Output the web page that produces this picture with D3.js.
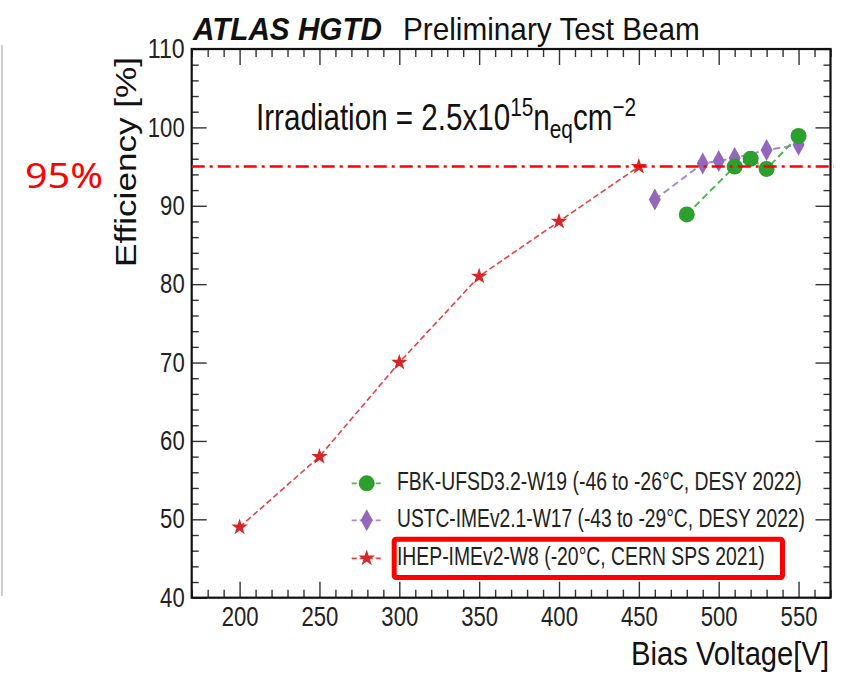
<!DOCTYPE html>
<html><head><meta charset="utf-8">
<script src="https://cdn.jsdelivr.net/npm/d3@7/dist/d3.min.js"></script>
<style>
body{margin:0;background:#fff;}
svg{display:block;font-family:"Liberation Sans",Arial,Helvetica,sans-serif;}
</style>
</head><body>
<svg id="c" width="841" height="674"></svg>
<script>
// ---------- data ----------
const xTicks = [200, 250, 300, 350, 400, 450, 500, 550];
const yTicks = [40, 50, 60, 70, 80, 90, 100, 110];
const fbkV   = [480, 510, 520, 530, 550];
const fbkEff = [88.9, 95.0, 96.0, 94.7, 98.9];
const ustcV   = [460, 490, 500, 510, 530, 550];
const ustcEff = [90.8, 95.4, 95.7, 96.1, 97.1, 97.8];
const ihepV   = [200, 250, 300, 350, 400, 450];
const ihepEff = [49, 58, 70, 81, 88, 95];
const seriesNames = [
  "FBK-UFSD3.2-W19 (-46 to -26°C, DESY 2022)",
  "USTC-IMEv2.1-W17 (-43 to -29°C, DESY 2022)",
  "IHEP-IMEv2-W8 (-20°C, CERN SPS 2021)"
];
const threshold = 95;

// ---------- layout ----------
const L = 191.7, R = 830.5, T = 49, B = 597.7;
const x = d3.scaleLinear().domain([170, 570]).range([L, R]);
const y = d3.scaleLinear().domain([40, 110]).range([B, T]);
const svg = d3.select("#c");

const green = "#2ca02c", greenL = "#4cb84c";
const purple = "#9467bd", purpleL = "#a68bd2";
const red = "#d62728", redL = "#e24545";

// scale a text horizontally so that it spans `width` px
function fit(t, tx, ty, width, anchor, pre) {
  t.attr("x", 0).attr("y", 0).attr("text-anchor", anchor || "start");
  const w = t.node().getComputedTextLength();
  t.attr("transform", `translate(${tx},${ty}) ${pre || ""} scale(${width / w},1)`);
  return t;
}

// faint vertical line at left edge
svg.append("line").attr("x1", 2).attr("x2", 2).attr("y1", 45).attr("y2", 596)
  .attr("stroke", "#bbb").attr("stroke-width", 1.5);

// ---------- axes ----------
const minorX = d3.range(170, 571, 10).filter(v => v % 50 !== 0);
const minorY = d3.range(40, 111, 2).filter(v => v % 10 !== 0);
function addAxis(axis, tx, ty) {
  const g = svg.append("g").attr("transform", `translate(${tx},${ty})`).call(axis);
  g.select(".domain").remove();
  g.selectAll(".tick line").attr("stroke", "#333").attr("stroke-width", 1.4);
  return g;
}
const gxb = addAxis(d3.axisBottom(x).tickValues(xTicks).tickSize(-16).tickPadding(9.5), 0, B);
addAxis(d3.axisBottom(x).tickValues(minorX).tickSize(-8).tickFormat(""), 0, B);
addAxis(d3.axisTop(x).tickValues(xTicks).tickSize(-16).tickFormat(""), 0, T);
addAxis(d3.axisTop(x).tickValues(minorX).tickSize(-8).tickFormat(""), 0, T);
const gyl = addAxis(d3.axisLeft(y).tickValues(yTicks).tickSize(-15).tickPadding(7), L, 0);
addAxis(d3.axisLeft(y).tickValues(minorY).tickSize(-7).tickFormat(""), L, 0);
addAxis(d3.axisRight(y).tickValues(yTicks).tickSize(-15).tickFormat(""), R, 0);
addAxis(d3.axisRight(y).tickValues(minorY).tickSize(-7).tickFormat(""), R, 0);

[gxb, gyl].forEach(g => g.selectAll(".tick text")
  .attr("font-size", 27).attr("fill", "#222")
  .attr("font-family", '"Liberation Sans",Arial,sans-serif')
  .attr("textLength", d => String(d).length * 12.3)
  .attr("lengthAdjust", "spacingAndGlyphs"));

// frame
svg.append("rect").attr("x", L).attr("y", T).attr("width", R - L).attr("height", B - T)
  .attr("fill", "none").attr("stroke", "#111").attr("stroke-width", 2.2);

// ---------- series ----------
const line = d3.line().x(d => x(d[0])).y(d => y(d[1]));
const ihep = d3.zip(ihepV, ihepEff);
const ustc = d3.zip(ustcV, ustcEff);
const fbk  = d3.zip(fbkV, fbkEff);

svg.append("path").datum(ihep).attr("d", line).attr("fill", "none")
  .attr("stroke", redL).attr("stroke-width", 1.6).attr("stroke-dasharray", "6,3");
svg.append("path").datum(ustc).attr("d", line).attr("fill", "none")
  .attr("stroke", purpleL).attr("stroke-width", 2).attr("stroke-dasharray", "7,4");
svg.append("path").datum(fbk).attr("d", line).attr("fill", "none")
  .attr("stroke", greenL).attr("stroke-width", 2).attr("stroke-dasharray", "7,4");

const diamond = "M0,-11L6,0L0,11L-6,0Z";
const star = d3.symbol(d3.symbolStar, 85)();

svg.append("g").selectAll("path").data(ihep).join("path")
  .attr("transform", d => `translate(${x(d[0])},${y(d[1])})`)
  .attr("d", star).attr("fill", red);
svg.append("g").selectAll("path").data(ustc).join("path")
  .attr("transform", d => `translate(${x(d[0])},${y(d[1])})`)
  .attr("d", diamond).attr("fill", purple);
svg.append("g").selectAll("circle").data(fbk).join("circle")
  .attr("cx", d => x(d[0])).attr("cy", d => y(d[1])).attr("r", 8).attr("fill", green);

// ---------- legend ----------
const legY = [483.3, 520.3, 558.3];
const legStyle = [
  {c: green, cl: greenL, m: "circle", len: 405},
  {c: purple, cl: purpleL, m: "diamond", len: 408},
  {c: red, cl: redL, m: "star", len: 368}
];
const leg = svg.append("g").selectAll("g").data(seriesNames).join("g")
  .attr("transform", (d, i) => `translate(0,${legY[i]})`);
leg.append("line").attr("x1", 351.7).attr("x2", 381).attr("y1", 0).attr("y2", 0)
  .attr("stroke", (d, i) => legStyle[i].cl).attr("stroke-width", 1.8).attr("stroke-dasharray", "5,3");
leg.each(function(d, i) {
  const g = d3.select(this);
  const s = legStyle[i];
  if (s.m === "circle") g.append("circle").attr("cx", 366.7).attr("r", 8).attr("fill", s.c);
  else if (s.m === "diamond") g.append("path").attr("transform", "translate(366.7,0)").attr("d", diamond).attr("fill", s.c);
  else g.append("path").attr("transform", "translate(366.7,0)").attr("d", star).attr("fill", s.c);
  const t = g.append("text").attr("font-size", 25).attr("fill", "#222").text(d);
  fit(t, 397, 7, s.len);
});

// red annotation box around third legend entry
svg.append("rect").attr("x", 394.2).attr("y", 539.2).attr("width", 388.3).attr("height", 38.3)
  .attr("rx", 2).attr("fill", "none").attr("stroke", "#ff0000").attr("stroke-width", 5);

// ---------- texts ----------
fit(svg.append("text").attr("font-size", 32).attr("font-weight", "bold")
  .attr("font-style", "italic").attr("fill", "#111").text("ATLAS HGTD"), 193, 40, 189);
fit(svg.append("text").attr("font-size", 32).attr("fill", "#111")
  .text("Preliminary Test Beam"), 403, 40, 297);

const irr = svg.append("g").attr("transform", "translate(256,130) scale(0.8,1)")
  .append("text").attr("font-size", 37).attr("fill", "#111");
irr.append("tspan").text("Irradiation = 2.5x10");
irr.append("tspan").attr("font-size", 26).attr("dy", -14).text("15");
irr.append("tspan").attr("dy", 14).text("n");
irr.append("tspan").attr("font-size", 26).attr("dy", 8).text("eq");
irr.append("tspan").attr("dy", -8).text("cm");
irr.append("tspan").attr("font-size", 26).attr("dy", -14).text("\u22122");

// axis titles
fit(svg.append("text").attr("font-size", 34).attr("fill", "#111")
  .text("Bias Voltage[V]"), 829, 665, 198, "end");
fit(svg.append("text").attr("font-size", 36).attr("fill", "#111")
  .text("Efficiency [%]"), 136, 267, 210, "start", "scale(0.8,1) rotate(-90)");

// 95% threshold annotation
svg.append("line").attr("x1", L).attr("x2", 834).attr("y1", y(threshold)).attr("y2", y(threshold))
  .attr("stroke", "#ff0000").attr("stroke-width", 2.5).attr("stroke-dasharray", "13,5,3,5");
fit(svg.append("text").attr("font-size", 35)
  .attr("font-family", '"Noto Sans","Open Sans",sans-serif').attr("fill", "#ff0000")
  .text(threshold + "%"), 25, 188, 78);
</script>
</body></html>
